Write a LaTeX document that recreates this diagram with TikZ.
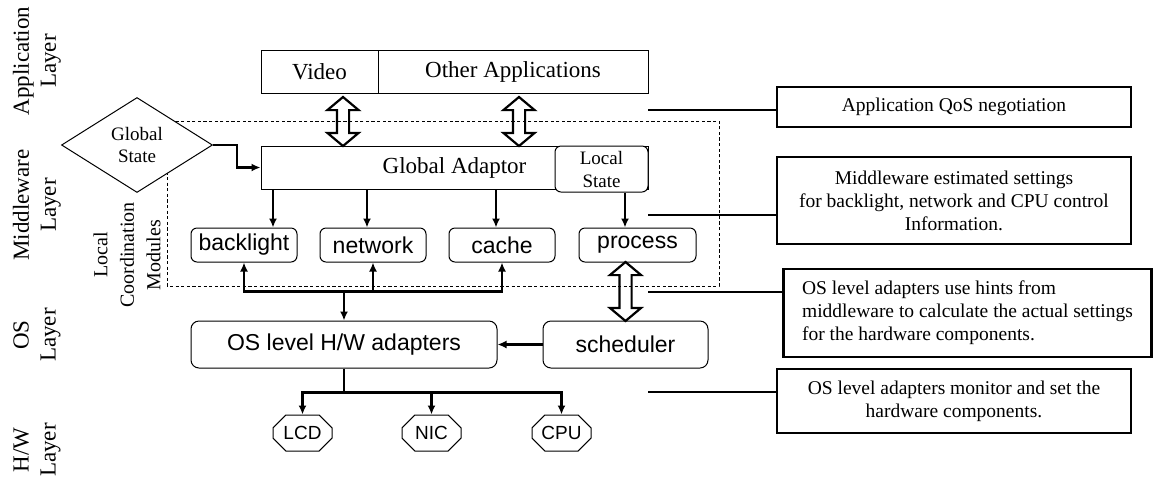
\documentclass[tikz,border=0pt]{standalone}
\usepackage{fontspec}
\setmainfont{Liberation Serif}
\setsansfont{Liberation Sans}
\usetikzlibrary{positioning,shapes,arrows.meta,calc}
\tikzstyle{app} = [draw, rectangle, minimum height=21.5pt, inner sep=0pt, font=\fontsize{11.5}{13}\selectfont]
\tikzstyle{state} = [draw, diamond, fill=white, aspect=1.6, minimum width=75.5pt, minimum height=47.5pt, inner sep=0pt, align=center, font=\fontsize{9.5}{11}\selectfont]
\tikzstyle{module} = [draw, rectangle, rounded corners=3pt, fill=white, minimum width=53pt, minimum height=17pt, inner sep=0pt, font=\sffamily\fontsize{11.5}{13}\selectfont]
\tikzstyle{device} = [draw, chamfered rectangle, chamfered rectangle xsep=4.5pt, minimum width=29.5pt, minimum height=18pt, inner sep=0pt, font=\sffamily\fontsize{9.5}{11}\selectfont]
\tikzstyle{note} = [draw, rectangle, line width=1.2pt, inner sep=0pt, align=center, font=\fontsize{9.75}{11.5}\selectfont]
\tikzstyle{layer} = [rotate=90, align=center, font=\fontsize{11.5}{13.5}\selectfont]
\tikzstyle{line} = [draw, -{Latex[length=4.5pt,width=4pt]}, line width=1.1pt]
\tikzstyle{lead} = [draw, line width=1.1pt]
\tikzstyle{dbl} = [draw, double arrow, rotate=90, line width=1.1pt, minimum width=14.5pt, double arrow head extend=4.75pt, double arrow tip angle=100, inner xsep=0pt, inner ysep=2.5pt]
\pgfdeclarelayer{background}
\pgfsetlayers{background,main}

\begin{document}
\begin{tikzpicture}[x=0.5pt, y=-0.5pt, line width=0.5pt]
    \useasboundingbox (0,0) rectangle (1153,479);

    % Layer labels
    \node [layer] (app-layer) at (37,61) {Application\\Layer};
    \node [layer] (mid-layer) at (37,205) {Middleware\\Layer};
    \node [layer] (os-layer) at (37,335) {OS\\Layer};
    \node [layer] (hw-layer) at (37,450) {H/W\\Layer};
    \node [layer, font=\fontsize{10}{13.25}\selectfont] (lcm) at (127,255) {Local\\Coordination\\Modules};

    % Place nodes
    \node [app, minimum width=58.5pt] (video) at (319.5,71.5) {Video};
    \node [app, minimum width=135pt] (other-apps) at (513,71.5) {Other Applications};
    \node [app, minimum width=193.5pt] (global-adaptor) at (454.5,167.5) {Global Adaptor};
    \node [module, minimum width=46.5pt, minimum height=23pt, align=center, font=\fontsize{9.5}{11.5}\selectfont] (local-state) at (601.5,169) {Local\\State};
    \node [state] (global-state) at (137,145) {Global\\State};
    \node [module] (backlight) at (244,245) {backlight};
    \node [module] (network) at (373,245) {network};
    \node [module] (cache) at (502,245) {cache};
    \node [module, minimum width=58.5pt] (process) at (637.5,245) {process};
    \node [module, rounded corners=4pt, minimum width=153pt, minimum height=23.5pt] (os-adapters) at (344,344.5) {OS level H/W adapters};
    \node [module, rounded corners=4pt, minimum width=82.5pt, minimum height=23.5pt] (scheduler) at (625.5,344.5) {scheduler};
    \node [device] (lcd) at (302.5,433) {LCD};
    \node [device] (nic) at (431.5,433) {NIC};
    \node [device] (cpu) at (561.5,433) {CPU};

    % Notes on the right
    \node [note, minimum width=177pt, minimum height=20pt] (qos-note) at (954,107) {Application QoS negotiation};
    \node [note, minimum width=177pt, minimum height=43.5pt] (mw-note) at (954,200.5) {Middleware estimated settings\\for backlight, network and CPU control\\Information.};
    \node [note, minimum width=184pt, minimum height=44pt, align=left] (hint-note) at (967.5,313) {OS level adapters use hints from\\middleware to calculate the actual settings\\for the hardware components.};
    \node [note, minimum width=177pt, minimum height=32pt] (hw-note) at (954,401) {OS level adapters monitor and set the\\hardware components.};

    % Draw edges
    \path [line] (global-state.east) -- ++(24,0) |- (global-adaptor.west);
    \foreach \x/\m in {273/backlight, 367/network, 496/cache}
        \path [line] (global-adaptor.south -| \x,0) -- (\m.north -| \x,0);
    \path [line] (local-state.south -| 625,0) -- (process.north -| 625,0);
    \coordinate (bus) at ([yshift=14.5pt]os-adapters.north);
    \path [line] (bus) -- (os-adapters.north);
    \foreach \m in {backlight, network, cache}
        \path [line] (bus) -| (\m.south);
    \path [line] (scheduler.west) -- (os-adapters.east);
    \coordinate (hw-bus) at ([yshift=-12pt]os-adapters.south);
    \path [draw, line width=1.1pt] (os-adapters.south) -- (hw-bus);
    \foreach \m in {lcd, nic, cpu}
        \path [line] (hw-bus) -| (\m.north);

    % Double arrows
    \node [dbl, minimum height=24.5pt] (video-ga) at (343,121.5) {};
    \node [dbl, minimum height=24.5pt] (other-ga) at (519,121.5) {};
    \node [dbl, minimum height=29.5pt] (process-sched) at ($(process.south -| scheduler.north)!0.5!(scheduler.north)$) {};

    % Leader lines to the notes
    \coordinate (lead-qos) at (648,110);
    \coordinate (lead-mw) at (648,215);
    \coordinate (lead-hint) at (648,292);
    \coordinate (lead-hw) at (648,392);
    \path [lead] (lead-qos) -- (lead-qos -| qos-note.west);
    \path [lead] (lead-mw) -- (lead-mw -| mw-note.west);
    \path [lead] (lead-hint) -- (lead-hint -| hint-note.west);
    \path [lead] (lead-hw) -- (lead-hw -| hw-note.west);

    % Dashed box of the middleware
    \begin{pgfonlayer}{background}
      \path [draw, dash pattern=on 1.6pt off 1.2pt] (167,121) rectangle (719,286);
    \end{pgfonlayer}
\end{tikzpicture}
\end{document}
